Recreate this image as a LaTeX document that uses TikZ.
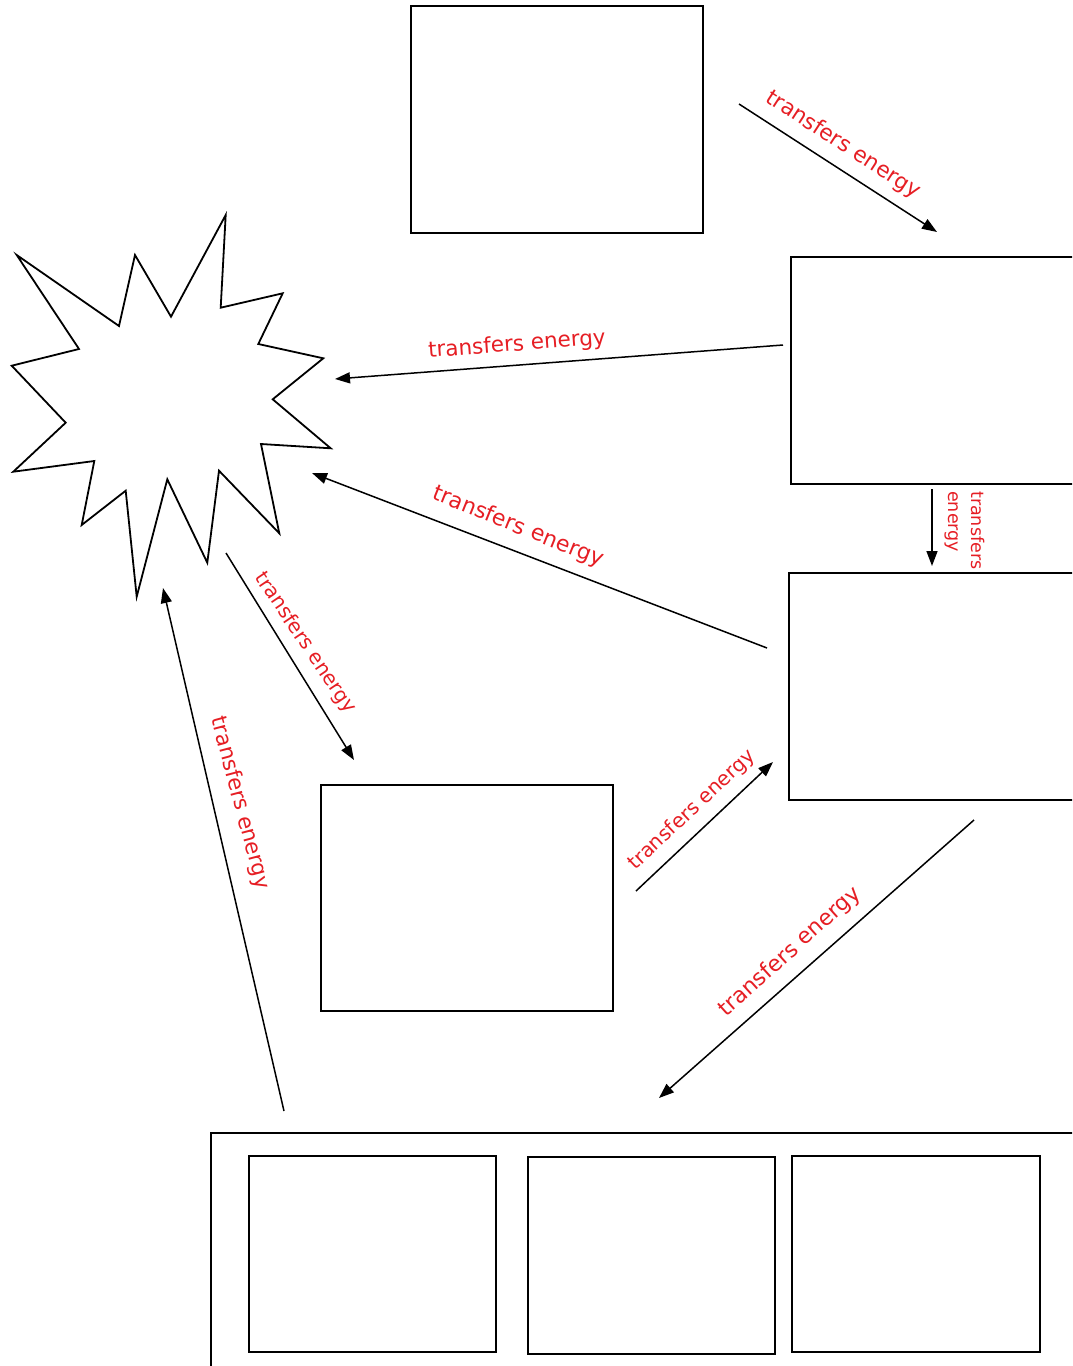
\documentclass[tikz,border=0pt]{standalone}
\usepackage{fontspec}
\setmainfont{DejaVu Sans}
\usetikzlibrary{arrows.meta}
\definecolor{lblred}{RGB}{230,30,36}
\begin{document}
\begin{tikzpicture}[x=1pt,y=-1pt,
  box/.style={draw=black,line width=1.8pt,inner sep=0pt,outer sep=0pt},
  flow/.style={draw=black,line width=1.5pt,-{Triangle[length=15pt,width=11pt]}},
  lbl/.style={text=lblred,font=\fontsize{#1pt}{#1pt}\selectfont,inner sep=0pt},
  lbl/.default=21.5]
\useasboundingbox (0,0) rectangle (1072,1366);
\fill[white] (0,0) rectangle (1072,1366);
\clip (0,0) rectangle (1072,1366);

% boxes
\node[box,minimum width=292pt,minimum height=227pt] (top) at (557,119.5) {};
\node[box,minimum width=299pt,minimum height=227pt] (right1) at (940.5,370.5) {};
\node[box,minimum width=301pt,minimum height=227pt] (right2) at (939.5,686.5) {};
\node[box,minimum width=292pt,minimum height=226pt] (middle) at (467,898) {};
\node[box,minimum width=879pt,minimum height=257pt] (bottom) at (650.5,1261.5) {};
\node[box,minimum width=247pt,minimum height=196pt] (in1) at (372.5,1254) {};
\node[box,minimum width=247pt,minimum height=197pt] (in2) at (651.5,1255.5) {};
\node[box,minimum width=248pt,minimum height=196pt] (in3) at (916,1254) {};

% star
\draw[line width=1.8pt,line join=miter]
 (16.7,255) -- (119,326) -- (135,255) -- (171,316.7) -- (225.7,215) -- (220.7,307.7)
 -- (282.7,293.3) -- (258.3,344) -- (323.3,358.3) -- (272.7,399.3) -- (330.7,448.3)
 -- (261,444) -- (279.3,533.3) -- (219,470.7) -- (207.3,562.7) -- (167.3,479.3)
 -- (136.7,596.7) -- (125.7,490.7) -- (81.7,525) -- (94.3,461) -- (13.3,471.7)
 -- (65.7,422.7) -- (11.7,365.7) -- (79,349) -- cycle;
\coordinate (star) at (170,405);

% arrow end points
\coordinate (a1s) at (739,104);  \coordinate (a1e) at (937,232);
\coordinate (a2s) at (783,345);  \coordinate (a2e) at (335,379);
\coordinate (a3s) at (767,648);  \coordinate (a3e) at (312,473);
\coordinate (a4s) at (932,489);  \coordinate (a4e) at (932,566);
\coordinate (a5s) at (226,553);  \coordinate (a5e) at (354,760);
\coordinate (a6s) at (284,1111); \coordinate (a6e) at (163,588);
\coordinate (a7s) at (636,891);  \coordinate (a7e) at (773,762);
\coordinate (a8s) at (974,820);  \coordinate (a8e) at (659,1098);

\draw[flow] (a1s) -- (a1e);
\draw[flow] (a2s) -- (a2e);
\draw[flow] (a3s) -- (a3e);
\draw[flow] (a4s) -- (a4e);
\draw[flow] (a5s) -- (a5e);
\draw[flow] (a6s) -- (a6e);
\draw[flow] (a7s) -- (a7e);
\draw[flow] (a8s) -- (a8e);

% labels
\node[lbl=21.7,rotate=-33] (l1) at (843,145) {transfers energy};
\node[lbl=21.5,rotate=4.3] (l2) at (517,345) {transfers energy};
\node[lbl=22,rotate=-22] (l3) at (518,527) {transfers energy};
\node[lbl=17,rotate=-90,anchor=north west,align=left,
      font=\fontsize{17.5pt}{23pt}\selectfont] (l4) at (985,491) {transfers\\energy};
\node[lbl=20,rotate=-56] (l5) at (305,643) {transfers energy};
\node[lbl=21.5,rotate=-75] (l6) at (240,803) {transfers energy};
\node[lbl=20,rotate=43] (l7) at (692,810) {transfers energy};
\node[lbl=22,rotate=42] (l8) at (790,952) {transfers energy};
\end{tikzpicture}
\end{document}
